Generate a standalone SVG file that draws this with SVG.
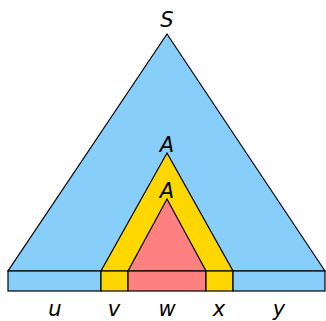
<svg xmlns="http://www.w3.org/2000/svg" width="326" height="321" viewBox="0 0 326 321">
<style>
.s{stroke:#000;stroke-width:1.2;stroke-linejoin:miter}
.b{fill:#87cefa}
.y{fill:#ffd700}
.p{fill:#ff8080}
text{font-family:"DejaVu Sans",sans-serif;font-style:italic;font-size:21px;text-anchor:middle;fill:#000}
</style>
<g id="S">
<polygon class="s b" points="167,34 8,271 325,271"/>
<text x="167" y="27">S</text>
</g>
<g id="A1">
<polygon class="s y" points="167,153 101,271 233,271"/>
<text x="167" y="152">A</text>
</g>
<g id="A2">
<polygon class="s p" points="167,199 128,271 206,271"/>
<text x="167" y="198">A</text>
</g>
<g id="bar">
<rect class="s b" x="8" y="271" width="93" height="20"/>
<rect class="s y" x="101" y="271" width="27" height="20"/>
<rect class="s p" x="128" y="271" width="78" height="20"/>
<rect class="s y" x="206" y="271" width="27" height="20"/>
<rect class="s b" x="233" y="271" width="92" height="20"/>
</g>
<g id="labels">
<text x="55" y="316">u</text>
<text x="114" y="316">v</text>
<text x="167" y="316">w</text>
<text x="219" y="316">x</text>
<text x="279" y="316">y</text>
</g>
</svg>
